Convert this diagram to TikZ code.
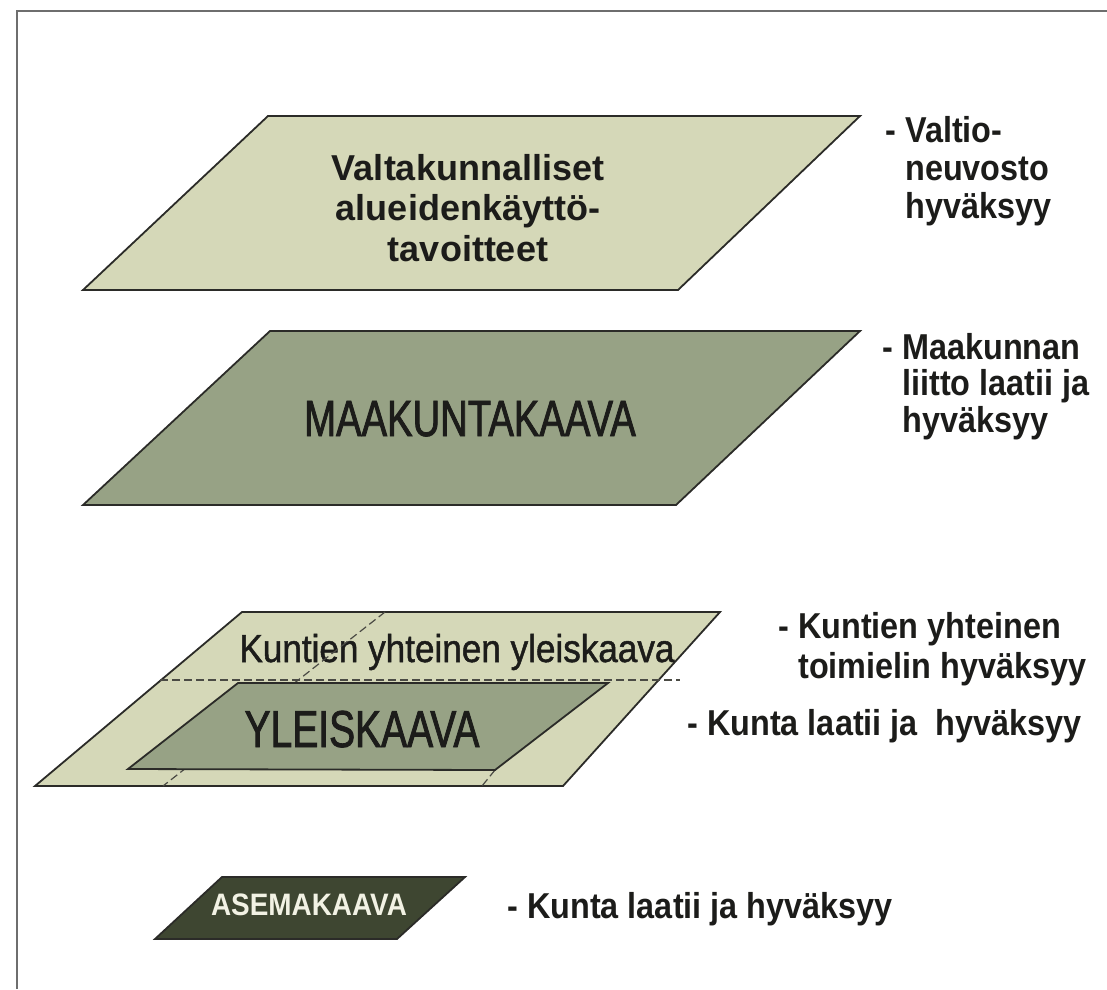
\documentclass[tikz,border=0pt]{standalone}
\usepackage{fontspec}
\setmainfont{Liberation Sans}
\newfontfamily\sidefont[FakeStretch=0.9]{Liberation Sans}
\newfontfamily\heavyfont[FakeStretch=0.9, FakeBold=1.2]{Liberation Sans}
\newfontfamily\condfont[FakeStretch=0.75, FakeBold=1.6]{Liberation Sans}

\definecolor{paleolive}{HTML}{D5D8B8}
\definecolor{sage}{HTML}{97A285}
\definecolor{darkolive}{HTML}{3E4631}
\definecolor{edge}{HTML}{2B2B28}
\definecolor{cutgray}{HTML}{4A4A44}
\definecolor{framegray}{HTML}{6E6E6E}
\definecolor{ink}{HTML}{1C1C1A}
\definecolor{paper}{HTML}{F2F2E4}

\begin{document}
\begin{tikzpicture}[x=1pt, y=-1pt,
layer/.style={draw=edge, line width=1.8pt, line join=miter},
cut/.style={draw=cutgray, line width=1.2pt, dash pattern=on 8pt off 4pt},
side/.style={anchor=base west, align=left, inner sep=0pt, text=ink,
  font=\sidefont\bfseries\fontsize{36}{38}\selectfont},
title/.style={anchor=base, align=center, inner sep=0pt, text=ink}]
\useasboundingbox (0,0) rectangle (1107,989);
% frame
\draw[framegray, line width=2pt] (17,989) -- (17,11) -- (1107,11);
% national goals
\filldraw[layer, fill=paleolive] (268,116) -- (860,116) -- (678,290) -- (83,290) -- cycle;
\node[title, font=\bfseries\fontsize{36}{40.5}\selectfont] (tavoitteet) at (468,261)
  {Valtakunnalliset\\alueidenkäyttö-\\tavoitteet};
\node[side] (valtio) at (905,218) {\llap{- }Valtio-\\neuvosto\\hyväksyy};
% regional plan
\filldraw[layer, fill=sage] (270,331) -- (860,331) -- (676,505) -- (83,505) -- cycle;
\node[title, font=\condfont\fontsize{51}{51}\selectfont] (maakunta) at (470,436) {MAAKUNTAKAAVA};
\node[side, font=\sidefont\bfseries\fontsize{36}{36.5}\selectfont] (liitto) at (902,432)
  {\llap{- }Maakunnan\\liitto laatii ja\\hyväksyy};
% master plans
\filldraw[layer, fill=paleolive] (242,612) -- (720,612) -- (563,786) -- (35,786) -- cycle;
\draw[cut] (160,680) -- (680,680);
\draw[cut] (495,770) -- (482,786);
\node[title, font=\heavyfont\fontsize{39}{39}\selectfont] (yhteinen) at (457,662)
  {Kuntien yhteinen yleiskaava};
\draw[cut] (385,612) -- (163,786);
\filldraw[layer, fill=sage] (238,683) -- (608,683) -- (495,770) -- (128,769) -- cycle;
\node[title, font=\condfont\fontsize{52}{52}\selectfont] (yleis) at (362,747) {YLEISKAAVA};
\node[side, font=\sidefont\bfseries\fontsize{36}{40}\selectfont] (toimielin) at (798,678)
  {\llap{- }Kuntien yhteinen\\toimielin hyväksyy};
\node[side] (kunta) at (707,735) {\llap{- }Kunta laatii ja~ hyväksyy};
% local plan
\filldraw[layer, fill=darkolive] (222,877) -- (465,877) -- (397,939) -- (155,939) -- cycle;
\node[title, text=paper, font=\sidefont\bfseries\fontsize{31}{31}\selectfont] (asema) at (309,915) {ASEMAKAAVA};
\node[side] (kunta2) at (527,918) {\llap{- }Kunta laatii ja hyväksyy};
\end{tikzpicture}
\end{document}
